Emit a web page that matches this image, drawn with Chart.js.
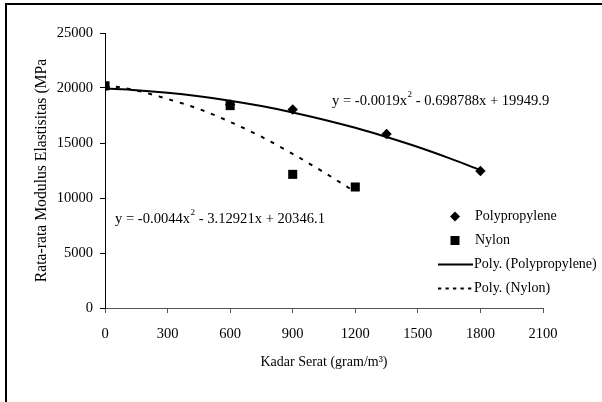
<!DOCTYPE html>
<html>
<head>
<meta charset="utf-8">
<script src="https://cdn.jsdelivr.net/npm/chart.js@4.4.1/dist/chart.umd.min.js"></script>
<style>
  html, body { margin: 0; padding: 0; background: #fff; }
  #wrap { width: 602px; height: 402px; position: relative; }
</style>
</head>
<body>
<div id="wrap"><canvas id="grafico"></canvas></div>
<script>
// data
const kadarPP = [0, 600, 900, 1350, 1800];
const modulusPP = [20100, 18500, 18050, 15820, 12450];
const kadarNylon = [0, 600, 900, 1200];
const modulusNylon = [20200, 18400, 12150, 11000];

// trend curves, read every 150 gram/m3
const trendKadarPP = [0, 150, 300, 450, 600, 750, 900, 1050, 1200, 1350, 1500, 1650, 1800];
const trendPP = [19950, 19800, 19570, 19250, 18850, 18360, 17780, 17120, 16380, 15540, 14630, 13620, 12540];
const trendKadarNylon = [0, 150, 300, 450, 600, 750, 900, 1050, 1200];
const trendNylon = [20280, 19780, 19000, 18100, 16920, 15570, 14010, 12330, 10550];

const ticksX = [0, 300, 600, 900, 1200, 1500, 1800, 2100];
const ticksY = [0, 5000, 10000, 15000, 20000, 25000];

const label = ["Polypropylene", "Nylon", "Poly. (Polypropylene)", "Poly. (Nylon)"];
const persamaanPP = ["y = -0.0019x", "2", " - 0.698788x + 19949.9"];
const persamaanNylon = ["y = -0.0044x", "2", " - 3.12921x + 20346.1"];

const fonte = '"Liberation Serif", "Times New Roman", serif';

function pontos(xs, ys) {
  return xs.map((x, i) => ({ x: x, y: ys[i] }));
}

function desenharPersamaan(ctx, x, y, partes) {
  ctx.font = `14.6px ${fonte}`;
  ctx.fillText(partes[0], x, y);
  x += ctx.measureText(partes[0]).width;
  ctx.font = `9px ${fonte}`;
  ctx.fillText(partes[1], x + 0.5, y - 6);
  x += ctx.measureText(partes[1]).width + 0.5;
  ctx.font = `14.6px ${fonte}`;
  ctx.fillText(partes[2], x, y);
}

const pluginExtra = {
  id: "extra",
  beforeDraw(chart) {
    const ctx = chart.ctx;
    ctx.save();
    ctx.fillStyle = "#fff";
    ctx.fillRect(0, 0, chart.width, chart.height);
    ctx.fillStyle = "#000";
    ctx.fillRect(5, 3, chart.width - 5, 2);
    ctx.fillRect(5, 3, 2, chart.height - 3);
    ctx.restore();
  },
  afterDraw(chart) {
    const ctx = chart.ctx;
    ctx.save();
    ctx.fillStyle = "#000";
    ctx.strokeStyle = "#000";
    ctx.textBaseline = "middle";
    ctx.textAlign = "left";

    desenharPersamaan(ctx, 332, 101, persamaanPP);
    desenharPersamaan(ctx, 115, 219, persamaanNylon);

    // legend
    ctx.font = `14px ${fonte}`;
    // diamond
    ctx.beginPath();
    ctx.moveTo(455, 211.5);
    ctx.lineTo(460, 216.5);
    ctx.lineTo(455, 221.5);
    ctx.lineTo(450, 216.5);
    ctx.closePath();
    ctx.fill();
    ctx.fillText(label[0], 475, 216.5);
    // square
    ctx.fillRect(450.5, 236, 9, 9);
    ctx.fillText(label[1], 475, 240.5);
    // solid line
    ctx.lineWidth = 2;
    ctx.beginPath();
    ctx.moveTo(438, 264.5);
    ctx.lineTo(473, 264.5);
    ctx.stroke();
    ctx.fillText(label[2], 474, 264.5);
    // dashed line
    ctx.setLineDash([3.3, 4.2]);
    ctx.beginPath();
    ctx.moveTo(438, 288.5);
    ctx.lineTo(473, 288.5);
    ctx.stroke();
    ctx.setLineDash([]);
    ctx.fillText(label[3], 474, 288.5);
    ctx.restore();
  },
};

const data = {
  datasets: [
    {
      label: label[1],
      data: pontos(kadarNylon, modulusNylon),
      pointStyle: "rect",
      pointRadius: 6.4,
      backgroundColor: "#000",
      borderColor: "#000",
      borderWidth: 0,
      order: 0,
    },
    {
      label: label[0],
      data: pontos(kadarPP, modulusPP),
      pointStyle: "rectRot",
      pointRadius: 5.2,
      backgroundColor: "#000",
      borderColor: "#000",
      borderWidth: 0,
      order: 1,
    },
    {
      label: label[2],
      data: pontos(trendKadarPP, trendPP),
      showLine: true,
      pointRadius: 0,
      borderColor: "#000",
      borderWidth: 2,
      cubicInterpolationMode: "monotone",
      order: 2,
    },
    {
      label: label[3],
      data: pontos(trendKadarNylon, trendNylon),
      showLine: true,
      pointRadius: 0,
      borderColor: "#000",
      borderWidth: 2,
      borderDash: [4, 7],
      cubicInterpolationMode: "monotone",
      order: 3,
    },
  ],
};

const config = {
  type: "scatter",
  data: data,
  options: {
    responsive: true,
    maintainAspectRatio: false,
    animation: false,
    layout: {
      padding: { left: 0, top: 33, right: 59, bottom: 0 },
    },
    scales: {
      x: {
        type: "linear",
        min: 0,
        max: 2100,
        afterBuildTicks: (s) => {
          s.ticks = ticksX.map((v) => ({ value: v }));
        },
        afterFit: (s) => {
          s.height = 94;
        },
        grid: {
          display: true,
          drawOnChartArea: false,
          drawTicks: true,
          tickLength: 5,
          color: "#555",
        },
        border: { display: true, color: "#555", width: 1 },
        ticks: {
          color: "#000",
          padding: 12,
          maxRotation: 0,
          font: { family: fonte, size: 14.5 },
          callback: (v) => String(v),
        },
        title: {
          display: true,
          text: "Kadar Serat (gram/m³)",
          color: "#000",
          font: { family: fonte, size: 14 },
          padding: { top: 0, bottom: 31 },
        },
      },
      y: {
        min: 0,
        max: 25000,
        afterBuildTicks: (s) => {
          s.ticks = ticksY.map((v) => ({ value: v }));
        },
        afterFit: (s) => {
          s.width = 105;
        },
        grid: {
          display: true,
          drawOnChartArea: false,
          drawTicks: true,
          tickLength: 5,
          color: "#000",
        },
        border: { display: true, color: "#000", width: 1 },
        ticks: {
          color: "#000",
          padding: 7,
          font: { family: fonte, size: 14.5 },
          callback: (v) => String(v),
        },
        title: {
          display: true,
          text: "Rata-rata Modulus Elastisitas (MPa",
          color: "#000",
          font: { family: fonte, size: 15.7 },
          padding: { top: 32, bottom: 0 },
        },
      },
    },
    plugins: {
      legend: { display: false },
      tooltip: { enabled: false },
    },
  },
  plugins: [pluginExtra],
};

new Chart(document.getElementById("grafico"), config);
</script>
</body>
</html>
